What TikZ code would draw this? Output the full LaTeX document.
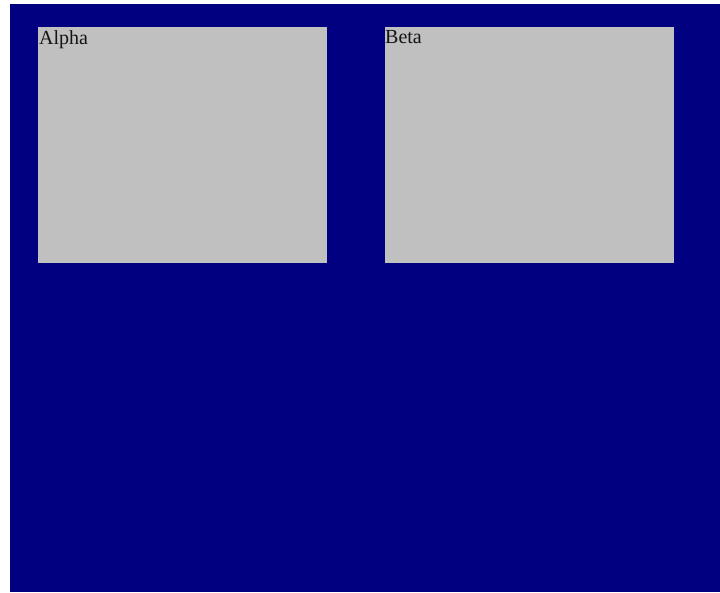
\documentclass[tikz,border=0pt]{standalone}
\usepackage{fontspec}
\setmainfont{Liberation Serif}
\usetikzlibrary{positioning}
\definecolor{navyback}{RGB}{0,0,128}
\definecolor{panelgrey}{RGB}{192,192,192}
\definecolor{captiontext}{RGB}{20,20,20}

\begin{document}
\begin{tikzpicture}[x=1pt,y=-1pt,
    panel/.style={fill=panelgrey,draw=none,
      minimum width=289pt,minimum height=236pt,inner sep=0pt,anchor=north west},
    caption/.style={anchor=north west,inner sep=0pt,font=\fontsize{20}{21}\selectfont,
      text=captiontext}]
  % Page and background
  \useasboundingbox (0,0) rectangle (720,592);
  \fill[white] (0,0) rectangle (720,592);
  \fill[navyback] (10,4) rectangle (720,592);

  % Panels
  \node[panel] (alpha) at (38,27) {};
  \node[panel] (beta) at (385,27) {};

  % Captions
  \node[caption] (alphalabel) at ([xshift=1pt,yshift=-3pt]alpha.north west) {Alpha};
  \node[caption] (betalabel) at ([xshift=0pt,yshift=-3pt]beta.north west) {Beta};
\end{tikzpicture}
\end{document}
